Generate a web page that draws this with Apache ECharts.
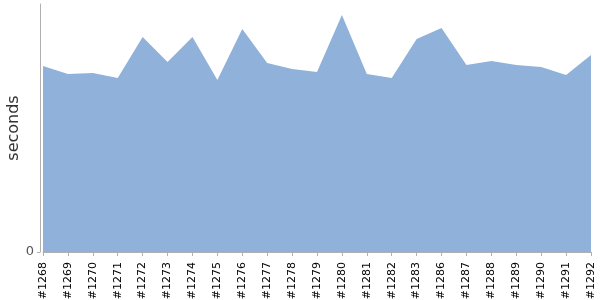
<!DOCTYPE html>
<html>
<head>
<meta charset="utf-8">
<script src="https://cdn.jsdelivr.net/npm/echarts@6/dist/echarts.min.js"></script>
<style>html,body{margin:0;padding:0;background:#fff}#c{width:600px;height:300px}</style>
</head>
<body>
<div id="c"></div>
<script>
const categories = ['#1268','#1269','#1270','#1271','#1272','#1273','#1274','#1275','#1276','#1277','#1278','#1279','#1280','#1281','#1282','#1283','#1286','#1287','#1288','#1289','#1290','#1291','#1292'];
const seconds = [186,178,179,174,215,190,215,172,223,189,183,180,237,178,174,213,224,187,191,187,185,177,197];
const yTicks = [0];

const chart = echarts.init(document.getElementById('c'), null, {renderer:'canvas'});
chart.setOption({
  animation: false,
  textStyle: {fontFamily: 'DejaVu Sans'},
  grid: {left: 43, right: 9, top: 4, bottom: 48, containLabel: false, outerBoundsMode: 'none'},
  xAxis: {
    type: 'category',
    data: categories,
    boundaryGap: false,
    offset: 5,
    axisLine: {lineStyle: {color: '#b0b0b0', width: 1}},
    axisTick: {show: true, length: 4, interval: 0, lineStyle: {color: '#b0b0b0'}},
    axisLabel: {interval: 0, rotate: 90, color: '#000', fontSize: 11, margin: 5, fontFamily: 'DejaVu Sans'},
    splitLine: {show: false}
  },
  yAxis: {
    type: 'value',
    min: 0, max: 248,
    offset: 3,
    name: 'seconds',
    nameLocation: 'middle',
    nameGap: 18,
    nameRotate: 90,
    nameMoveOverlap: false,
    nameTextStyle: {color: '#333', fontSize: 16, fontFamily: 'DejaVu Sans'},
    axisLine: {show: true, lineStyle: {color: '#b0b0b0', width: 1}},
    axisTick: {show: true, length: 3, customValues: yTicks, lineStyle: {color: '#b0b0b0'}},
    axisLabel: {customValues: yTicks, color: '#555', fontSize: 13, margin: 6, fontFamily: 'DejaVu Sans'},
    splitLine: {show: false}
  },
  series: [{
    type: 'line',
    data: seconds,
    showSymbol: false,
    symbol: 'none',
    lineStyle: {width: 0, color: '#8fb1da'},
    itemStyle: {color: '#8fb1da'},
    areaStyle: {color: '#8fb1da', opacity: 1}
  }]
});
</script>
</body>
</html>
